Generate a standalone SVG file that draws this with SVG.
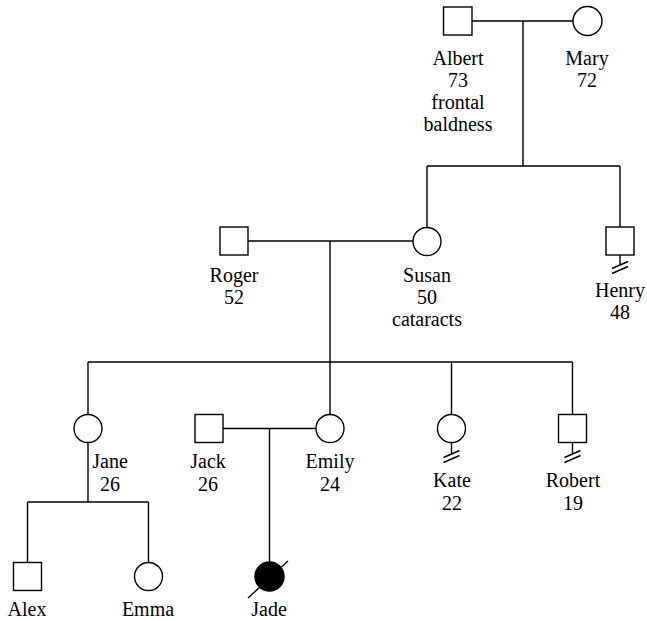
<svg xmlns="http://www.w3.org/2000/svg" width="647" height="621" viewBox="0 0 647 621">
<style>
.s{fill:#fff;stroke:#000;stroke-width:1.4}
.f{fill:#000;stroke:#000;stroke-width:1.4}
.l{fill:none;stroke:#000;stroke-width:1.4}
text{font-family:"Liberation Serif","Times New Roman",serif;font-size:20px;fill:#000;text-anchor:middle}
</style>
<rect width="647" height="621" fill="#fff"/>
<g id="connectors" class="l">
<path d="M472,21H573M523,21V166M427,166H620M427,166V227.5M620,166V227"/>
<path d="M248,241H413M330,241V362M88,362H572.5M88,362V414.5M330,362V414.5M451.5,362V414.5M572.5,362V414.5"/>
<path d="M223,428.5H316M269.5,428.5V562"/>
<path d="M88,442.5V502M27.5,502H148.5M27.5,502V562.5M148.5,502V562.5"/>
</g>
<g id="albert"><rect class="s" x="443.5" y="7" width="28.5" height="28"/><text x="458" y="65">Albert</text><text x="458" y="87">73</text><text x="458" y="109">frontal</text><text x="458" y="131">baldness</text></g>
<g id="mary"><circle class="s" cx="587.5" cy="21" r="14.5"/><text x="587" y="65">Mary</text><text x="587" y="87">72</text></g>
<g id="roger"><rect class="s" x="220" y="227" width="28" height="28"/><text x="234" y="282">Roger</text><text x="234" y="304">52</text></g>
<g id="susan"><circle class="s" cx="427" cy="241.5" r="14"/><text x="427" y="282">Susan</text><text x="427" y="304">50</text><text x="427" y="326">cataracts</text></g>
<g id="henry"><rect class="s" x="606" y="227" width="28" height="28"/><path class="l" d="M620,255V265M612,268.5L628,261.5M612,273.5L628,266.5"/><text x="620" y="297">Henry</text><text x="620" y="319">48</text></g>
<g id="jane"><circle class="s" cx="88" cy="428.5" r="14"/><text x="110" y="468">Jane</text><text x="110" y="491">26</text></g>
<g id="jack"><rect class="s" x="195" y="414.5" width="28" height="28"/><text x="208" y="468">Jack</text><text x="208" y="491">26</text></g>
<g id="emily"><circle class="s" cx="330" cy="428.5" r="14"/><text x="330" y="468">Emily</text><text x="330" y="491">24</text></g>
<g id="kate"><circle class="s" cx="451.5" cy="428.5" r="14"/><path class="l" d="M451.5,442.5V453M443.5,457.5L459.5,450.5M443.5,462.5L459.5,455.5"/><text x="452" y="487">Kate</text><text x="452" y="510">22</text></g>
<g id="robert"><rect class="s" x="558.5" y="414.5" width="28" height="28"/><path class="l" d="M572.5,442.5V453M564.5,457.5L580.5,450.5M564.5,462.5L580.5,455.5"/><text x="573" y="487">Robert</text><text x="573" y="510">19</text></g>
<g id="alex"><rect class="s" x="13.5" y="562.5" width="28" height="28"/><text x="27" y="616">Alex</text></g>
<g id="emma"><circle class="s" cx="148.5" cy="576.5" r="14"/><text x="148" y="616">Emma</text></g>
<g id="jade"><circle class="f" cx="269.5" cy="576.5" r="14.5"/><path class="l" d="M248,598L288,561"/><text x="269" y="616">Jade</text></g>
</svg>
